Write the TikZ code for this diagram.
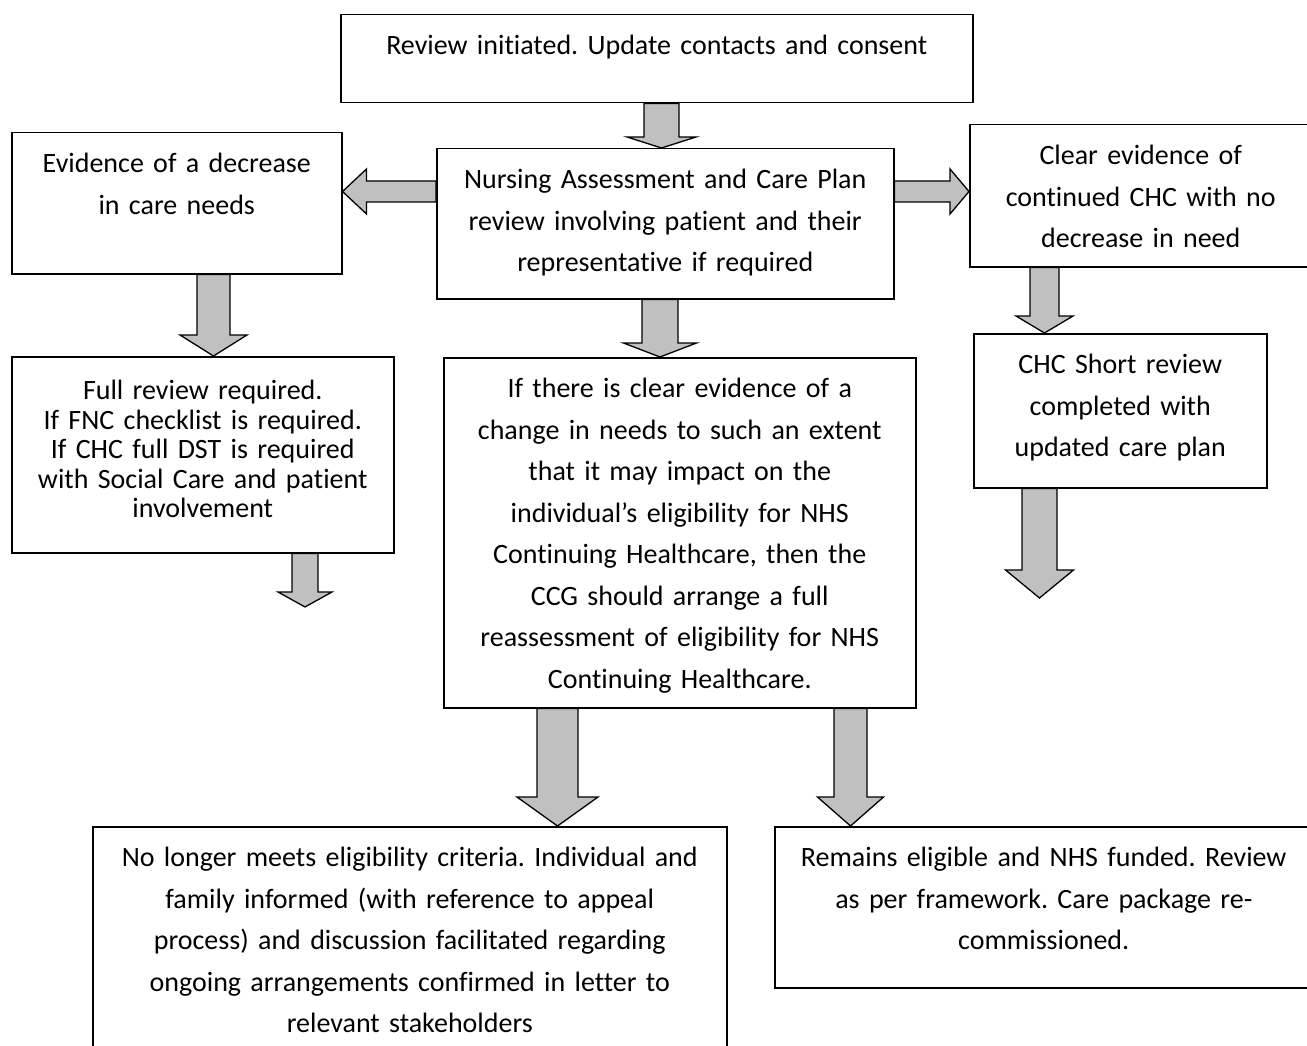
\documentclass[tikz,border=0pt]{standalone}
\usepackage{fontspec}
\setmainfont{Carlito}[Ligatures=NoCommon]
\usetikzlibrary{calc}

\definecolor{arrowgray}{HTML}{C0C0C0}
\frenchspacing

% fat arrow from #1 to the tip #2: shaft half width, head half width, head length
\newcommand{\blockarrow}[5]{%
	\coordinate (ba-s) at (#1);
	\coordinate (ba-t) at (#2);
	\coordinate (ba-b) at ($(ba-t)!#5!(ba-s)$);
	\draw[block arrow] ($(ba-s)!#3!90:(ba-t)$) -- ($(ba-b)!#3!90:(ba-t)$) -- ($(ba-b)!#4!90:(ba-t)$) -- (ba-t)
		-- ($(ba-b)!#4!-90:(ba-t)$) -- ($(ba-b)!#3!-90:(ba-t)$) -- ($(ba-s)!#3!-90:(ba-t)$) -- cycle;
}

\begin{document}
\begin{tikzpicture}[x=1pt, y=-1pt,
	box/.style={draw,line width=1.5pt,anchor=north west,align=center,inner xsep=4pt,inner ysep=0pt,
		text height=40pt,font=\fontsize{28}{41.5}\selectfont},
	block arrow/.style={draw,line width=1.3pt,fill=arrowgray,line join=miter}
]

	\useasboundingbox (0,0) rectangle (1307,1046);

	\node[box,text width=624pt,text depth=48pt] (top) at (340,14) {Review initiated. Update contacts and consent};
	\node[box,text width=322pt,text depth=101pt] (evid) at (11,132) {Evidence of a decrease\\in care needs};
	\node[box,text width=449pt,text depth=110pt] (nurse) at (436,148) {Nursing Assessment and Care Plan\\review involving patient and their\\representative if required};
	\node[box,text width=334pt,text depth=102pt] (clear) at (969,124) {Clear evidence of\\continued CHC with no\\decrease in need};
	\node[box,text width=374pt,text height=43pt,text depth=153pt,font=\fontsize{28}{29.5}\selectfont] (full) at (11,356)
		{Full review required.\\If FNC checklist is required.\\If CHC full DST is required\\with Social Care and patient\\involvement};
	\node[box,text width=464pt,text depth=310pt] (reassess) at (443,357)
		{If there is clear evidence of a\\change in needs to such an extent\\that it may impact on the\\individual’s eligibility for NHS\\Continuing Healthcare, then the\\CCG should arrange a full\\reassessment of eligibility for NHS\\Continuing Healthcare.};
	\node[box,text width=285pt,text depth=114pt] (short) at (973,333) {CHC Short review\\completed with\\updated care plan};
	\node[box,text width=626pt,text depth=184pt] (nolonger) at (92,826)
		{No longer meets eligibility criteria. Individual and\\family informed (with reference to appeal\\process) and discussion facilitated regarding\\ongoing arrangements confirmed in letter to\\relevant stakeholders};
	\node[box,text width=530pt,text depth=121pt] (remains) at (774,826)
		{Remains eligible and NHS funded. Review\\as per framework. Care package re-\\commissioned.};

	\coordinate (fullend) at (305,607);
	\coordinate (shortend) at (1039.5,598);

	\blockarrow{top.south -| 661.5,0}{nurse.north -| 661.5,0}{17.5pt}{34.5pt}{11pt}
	\blockarrow{nurse.west |- 0,191.5}{evid.east |- 0,191.5}{10.5pt}{22.5pt}{24pt}
	\blockarrow{nurse.east |- 0,191.5}{clear.west |- 0,191.5}{10.5pt}{22.5pt}{19pt}
	\blockarrow{evid.south -| 213.5,0}{full.north -| 213.5,0}{16.5pt}{33.5pt}{21pt}
	\blockarrow{full.south -| fullend}{fullend}{13pt}{27pt}{15pt}
	\blockarrow{nurse.south -| 660,0}{reassess.north -| 660,0}{18pt}{36.5pt}{14pt}
	\blockarrow{clear.south -| 1044.5,0}{short.north -| 1044.5,0}{14.5pt}{28.5pt}{17pt}
	\blockarrow{short.south -| shortend}{shortend}{17.5pt}{34pt}{28pt}
	\blockarrow{reassess.south -| 557.5,0}{nolonger.north -| 557.5,0}{20.5pt}{40.5pt}{29pt}
	\blockarrow{reassess.south -| 850.5,0}{remains.north -| 850.5,0}{16.5pt}{33pt}{29pt}
\end{tikzpicture}
\end{document}
